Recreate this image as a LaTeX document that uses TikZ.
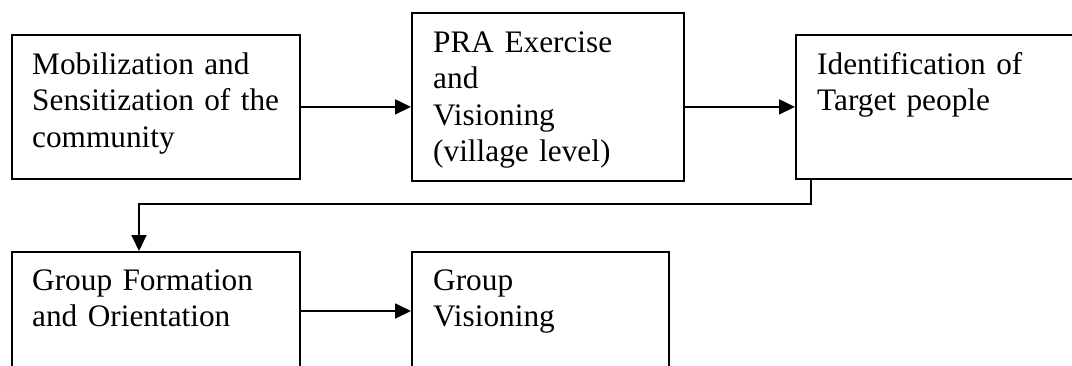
\documentclass[tikz,border=0pt]{standalone}
\usepackage{fontspec}
\setmainfont{Liberation Serif}
\usetikzlibrary{arrows.meta,calc}
\begin{document}
\begin{tikzpicture}[x=1pt,y=-1pt,
  box/.style={draw,line width=1.8pt,rectangle,inner sep=0pt,anchor=north west},
  lbl/.style={anchor=base west,inner sep=0pt,text width=#1,align=left,font=\fontsize{31.3}{36.5}\selectfont},
  arr/.style={line width=1.8pt,-{Triangle[length=16pt,width=15pt]}}]
\useasboundingbox (0,0) rectangle (1072,365);
\clip (0,0) rectangle (1072,365);
\node[box,minimum width=288pt,minimum height=144pt] (b1) at (11,34) {};
\node[box,minimum width=272pt,minimum height=168pt] (b2) at (411,12) {};
\node[box,minimum width=320pt,minimum height=144pt] (b3) at (795,34) {};
\node[box,minimum width=288pt,minimum height=140pt] (b4) at (11,251) {};
\node[box,minimum width=257pt,minimum height=140pt] (b5) at (411,251) {};
\node[lbl=260pt] (t1) at ($(b1.north west)+(21,40)$) {Mobilization and\\Sensitization of the\\community};
\node[lbl=250pt] (t2) at ($(b2.north west)+(22,40)$) {PRA Exercise\\and\\Visioning\\(village level)};
\node[lbl=250pt] (t3) at ($(b3.north west)+(22,40)$) {Identification of\\Target people};
\node[lbl=260pt] (t4) at ($(b4.north west)+(21,39)$) {Group Formation\\and Orientation};
\node[lbl=230pt] (t5) at ($(b5.north west)+(22,39)$) {Group\\Visioning};
\draw[arr] (b1.east) -- (b1.east -| b2.west);
\draw[arr] (b2.east |- b3.west) -- (b3.west);
\draw[arr] ($(b3.south west)+(16,0)$) -- ++(0,24) -| ($(b4.north west)+(128,0)$);
\draw[arr] ($(b4.north east)+(0,60)$) -- ($(b5.north west)+(0,60)$);
\end{tikzpicture}
\end{document}
